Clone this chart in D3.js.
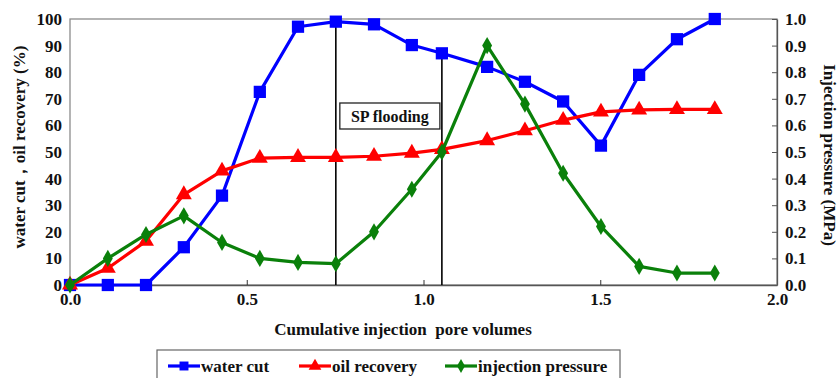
<!DOCTYPE html>
<html><head><meta charset="utf-8">
<script src="https://cdn.jsdelivr.net/npm/d3@7"></script>
<style>body{margin:0;background:#fff}svg{display:block}</style>
</head><body>
<svg id="c" width="838" height="378" font-family="Liberation Serif" font-weight="bold"></svg>
<script>
const pv = [0, 0.107, 0.215, 0.322, 0.43, 0.537, 0.645, 0.752, 0.86, 0.967, 1.052, 1.18, 1.287, 1.395, 1.502, 1.61, 1.717, 1.824];
const waterCut = [0, 0, 0, 14.2, 33.6, 72.6, 97.1, 99, 98, 90.2, 87.1, 82, 76.4, 69, 52.4, 79, 92.4, 100];
const oilRecovery = [0, 6.3, 16.5, 34, 42.9, 47.7, 48, 48, 48.4, 49.6, 51, 54.3, 58, 62, 65.1, 65.8, 66, 66];
const injPressure = [0, 0.10, 0.19, 0.26, 0.16, 0.10, 0.085, 0.08, 0.20, 0.36, 0.50, 0.90, 0.68, 0.42, 0.22, 0.07, 0.045, 0.045];
const xTicks = [0, 0.5, 1.0, 1.5, 2.0];
const yLeftTicks = [0,10,20,30,40,50,60,70,80,90,100];
const yRightTicks = [0,0.1,0.2,0.3,0.4,0.5,0.6,0.7,0.8,0.9,1.0];
const markerLines = [{x:0.752, top:100}, {x:1.052, top:87.1}];
const seriesNames = ["water cut", "oil recovery", "injection pressure"];

const FF = "Liberation Serif";
const svg = d3.select("#c");
const L=70, R=777, T=19, B=285;
const x = d3.scaleLinear().domain([0,2]).range([L,R]);
const yL = d3.scaleLinear().domain([0,100]).range([B,T]);
const yR = d3.scaleLinear().domain([0,1]).range([B,T]);

function styleText(sel, size){
  sel.attr("font-size",size).attr("fill","#111").attr("font-family",FF).attr("font-weight","bold");
}

// frame
svg.append("rect").attr("x",L).attr("y",T).attr("width",R-L).attr("height",B-T)
  .attr("fill","none").attr("stroke","#8c8c8c").attr("stroke-width",1.3);

// bottom axis
const gx = svg.append("g").attr("transform",`translate(0,${B})`)
  .call(d3.axisBottom(x).tickValues(xTicks).tickFormat(d3.format(".1f")).tickSizeInner(-5).tickSizeOuter(0).tickPadding(8));
gx.attr("font-family",FF);
gx.select(".domain").attr("stroke","#555").attr("stroke-width",1.3);
gx.selectAll(".tick line").attr("stroke","#333");
styleText(gx.selectAll("text"),17);

// left axis
const gl = svg.append("g").attr("transform",`translate(${L},0)`)
  .call(d3.axisLeft(yL).tickValues(yLeftTicks).tickFormat(d3.format("d")).tickSize(0).tickPadding(8));
gl.attr("font-family",FF);
gl.select(".domain").remove();
styleText(gl.selectAll("text"),17);

// right axis
const gr = svg.append("g").attr("transform",`translate(${R},0)`)
  .call(d3.axisRight(yR).tickValues(yRightTicks).tickFormat(d3.format(".1f")).tickSizeInner(-5).tickSizeOuter(0).tickPadding(8));
gr.attr("font-family",FF);
gr.select(".domain").attr("stroke","#555").attr("stroke-width",1.3);
gr.selectAll(".tick line").attr("stroke","#555");
styleText(gr.selectAll("text"),17);

// titles
styleText(svg.append("text").attr("x",403).attr("y",335).attr("text-anchor","middle")
  .text("Cumulative injection  pore volumes").attr("xml:space","preserve"),17);
styleText(svg.append("text").attr("transform",`translate(25,${147}) rotate(-90)`).attr("text-anchor","middle")
  .text("water cut，oil recovery (%)"),17);
styleText(svg.append("text").attr("transform",`translate(824,${155}) rotate(90)`).attr("text-anchor","middle")
  .text("Injection pressure (MPa)"),17);

// vertical marker lines
markerLines.forEach(m=>{
  svg.append("line").attr("x1",x(m.x)).attr("x2",x(m.x)).attr("y1",yL(m.top)).attr("y2",B)
    .attr("stroke","#000").attr("stroke-width",1.6);
});
// SP flooding box
svg.append("rect").attr("x",x(0.752)+4).attr("y",103).attr("width",x(1.052)-x(0.752)-6).attr("height",26)
  .attr("fill","#fff").attr("stroke","#222").attr("stroke-width",1.3);
styleText(svg.append("text").attr("x",(x(0.752)+x(1.052))/2+1).attr("y",122).attr("text-anchor","middle")
  .text("SP flooding"),16);

const colors = ["#0000ff","#ff0000","#0a800a"];
const sq = d3.symbol().type(d3.symbolSquare).size(150);
const tri = d3.symbol().type(d3.symbolTriangle).size(110);
const dia = d3.symbol().type(d3.symbolDiamond).size(85);

function drawSeries(vals, yScale, color, sym){
  const pts = pv.map((p,i)=>[x(p), yScale(vals[i])]);
  svg.append("path").attr("d",d3.line()(pts)).attr("fill","none").attr("stroke",color).attr("stroke-width",3.2).attr("stroke-linejoin","round");
  svg.append("g").selectAll("path").data(pts).join("path")
    .attr("transform",d=>`translate(${d[0]},${d[1]})`).attr("d",sym).attr("fill",color);
}
drawSeries(waterCut, yL, colors[0], sq);
drawSeries(oilRecovery, yL, colors[1], tri);
drawSeries(injPressure, yR, colors[2], dia);

// legend
svg.append("rect").attr("x",157).attr("y",350).attr("width",463).attr("height",40)
  .attr("fill","#fff").attr("stroke","#666").attr("stroke-width",1.2);
const legX = [168, 299, 445];
const syms = [d3.symbol().type(d3.symbolSquare).size(80), d3.symbol().type(d3.symbolTriangle).size(70), d3.symbol().type(d3.symbolDiamond).size(55)];
seriesNames.forEach((n,i)=>{
  const g = svg.append("g");
  g.append("line").attr("x1",legX[i]).attr("x2",legX[i]+32).attr("y1",366).attr("y2",366).attr("stroke",colors[i]).attr("stroke-width",3.2);
  g.append("path").attr("transform",`translate(${legX[i]+16},366)`).attr("d",syms[i]).attr("fill",colors[i]);
  styleText(g.append("text").attr("x",legX[i]+33).attr("y",372).text(n),17);
});
</script>
</body></html>
